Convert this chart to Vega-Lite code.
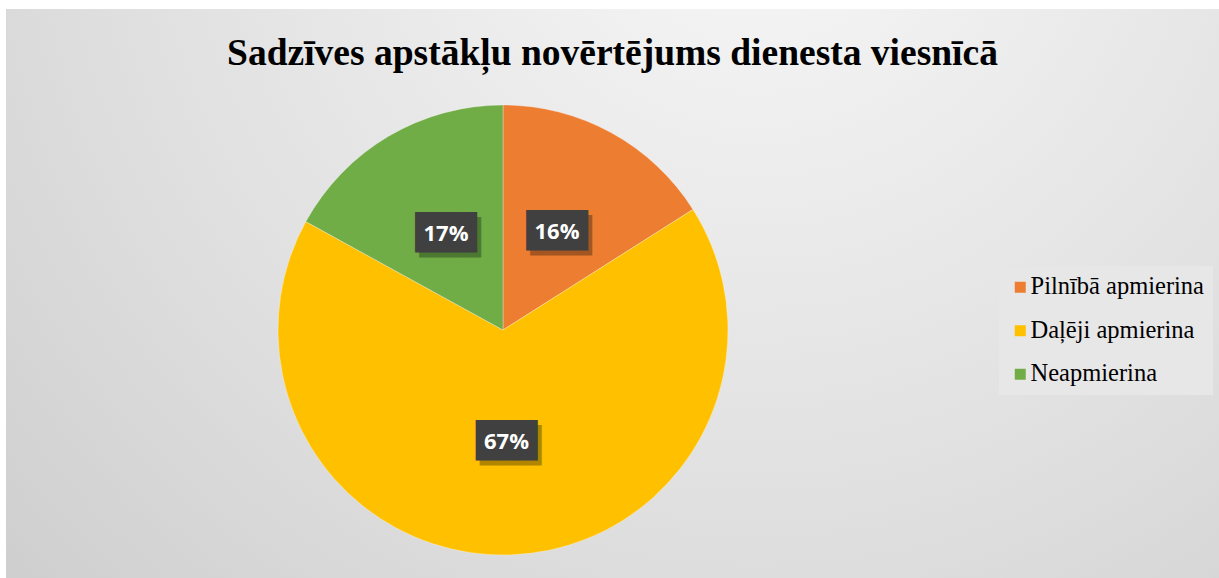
{
  "$schema": "https://vega.github.io/schema/vega-lite/v6.json",
  "width": 1219,
  "height": 578,
  "autosize": {"type": "fit", "contains": "padding"},
  "padding": {"left": 6, "top": 9, "right": 0, "bottom": 0},
  "background": "#ffffff",
  "title": {
    "text": "Sadzīves apstākļu novērtējums dienesta viesnīcā",
    "font": "Liberation Serif",
    "fontSize": 37.5,
    "fontWeight": "bold",
    "color": "#000000",
    "anchor": "middle",
    "baseline": "alphabetic",
    "offset": -93
  },
  "config": {
    "view": {
      "stroke": null,
      "fill": {
        "gradient": "radial",
        "x1": 0.62, "y1": 0.15, "r1": 0,
        "x2": 0.62, "y2": 0.15, "r2": 1.05,
        "stops": [
          {"offset": 0, "color": "#f8f8f8"},
          {"offset": 0.5, "color": "#e0e0e0"},
          {"offset": 1, "color": "#c4c4c4"}
        ]
      }
    }
  },
  "data": {
    "values": [
      {"Kategorija": "Pilnībā apmierina", "Procenti": 16, "Kārta": 1, "Teksts": "16%"},
      {"Kategorija": "Daļēji apmierina", "Procenti": 67, "Kārta": 2, "Teksts": "67%"},
      {"Kategorija": "Neapmierina", "Procenti": 17, "Kārta": 3, "Teksts": "17%"}
    ]
  },
  "encoding": {
    "theta": {"field": "Procenti", "type": "quantitative", "stack": true},
    "order": {"field": "Kārta", "type": "quantitative"},
    "x": {"value": 497},
    "y": {"value": 321}
  },
  "layer": [
    {
      "mark": {"type": "arc", "outerRadius": 225, "stroke": "#ffffff", "strokeWidth": 0.6, "strokeOpacity": 0.5},
      "encoding": {
        "color": {
          "field": "Kategorija",
          "type": "nominal",
          "scale": {
            "domain": ["Pilnībā apmierina", "Daļēji apmierina", "Neapmierina"],
            "range": ["#ED7D31", "#FFC000", "#70AD47"]
          },
          "legend": {
            "title": null,
            "orient": "none",
            "legendX": 993,
            "legendY": 257,
            "fillColor": "#e7e7e7",
            "padding": 9,
            "symbolType": "square",
            "symbolSize": 121,
            "symbolStrokeWidth": 0,
            "labelFont": "Liberation Serif",
            "labelFontSize": 24.5,
            "labelColor": "#000000",
            "labelOffset": -2,
            "rowPadding": 18.5,
            "labelLimit": 300
          }
        }
      }
    },
    {
      "mark": {"type": "text", "radius": 112, "font": "DejaVu Sans Mono", "fontSize": 34, "color": "#000000", "opacity": 0.3, "dx": 4, "dy": 5, "baseline": "middle", "align": "center"},
      "encoding": {"text": {"value": "███"}}
    },
    {
      "mark": {"type": "text", "radius": 112, "font": "DejaVu Sans Mono", "fontSize": 34, "color": "#404040", "baseline": "middle", "align": "center"},
      "encoding": {"text": {"value": "███"}}
    },
    {
      "mark": {"type": "text", "radius": 112, "font": "Open Sans", "fontSize": 22, "fontWeight": "bold", "color": "#ffffff", "baseline": "middle", "align": "center"},
      "encoding": {"text": {"field": "Teksts", "type": "nominal"}}
    }
  ]
}
